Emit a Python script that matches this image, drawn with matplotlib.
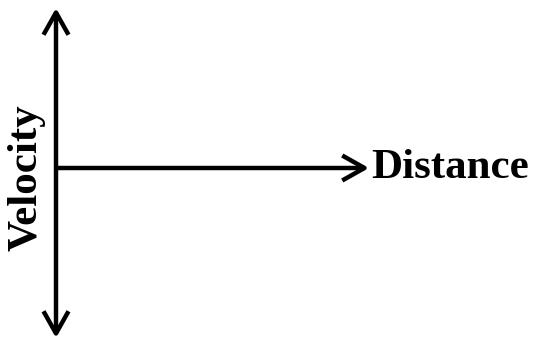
import matplotlib.pyplot as plt

# axis sketch, coordinates in pixels of the 535x347 canvas (y goes down)
origin = (56, 168)
v_top = 8
v_bottom = 338
h_end = 369
x_label = "Distance"
y_label = "Velocity"

fig = plt.figure(figsize=(5.35, 3.47), dpi=100)
ax = fig.add_axes([0, 0, 1, 1])
ax.set_xlim(0, 535)
ax.set_ylim(347, 0)
ax.axis("off")

arrow = dict(arrowstyle="->,head_length=1.6,head_width=0.9", lw=3.2, color="black",
             shrinkA=0, shrinkB=0, capstyle="butt")
# vertical double headed arrow
ax.annotate("", xy=(origin[0], v_top), xytext=origin, arrowprops=arrow)
ax.annotate("", xy=(origin[0], v_bottom), xytext=origin, arrowprops=arrow)
# horizontal arrow
ax.annotate("", xy=(h_end, origin[1]), xytext=origin, arrowprops=arrow)

ax.text(h_end + 2, origin[1], x_label, fontsize=31, fontweight="bold",
        family="Liberation Serif", ha="left", va="center")
ax.text(26, 178, y_label, fontsize=31, fontweight="bold", rotation=90,
        family="Liberation Serif", ha="center", va="center")

fig.savefig("out.png", dpi=100)
